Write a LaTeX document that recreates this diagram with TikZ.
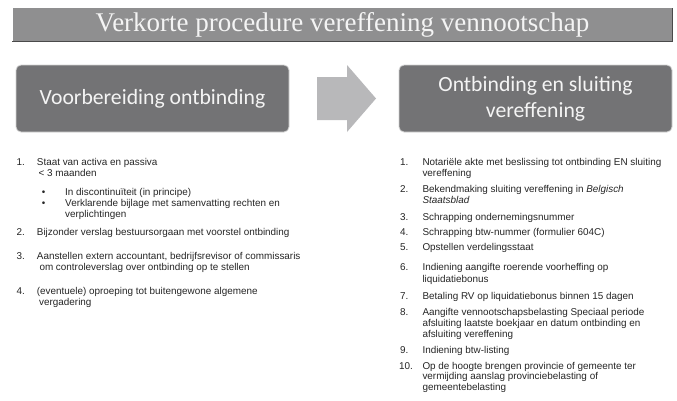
\documentclass[tikz,border=0pt]{standalone}
\usepackage{fontspec}
\setmainfont{Liberation Sans}
\newfontfamily\titlefont{Liberation Serif}
\newfontfamily\boxfont{Carlito}
\newfontfamily\listfont{Liberation Sans}
\definecolor{barfill}{HTML}{8F8F90}
\definecolor{baredge}{HTML}{4A4A4A}
\definecolor{boxfill}{HTML}{737375}
\definecolor{boxedge}{HTML}{D4D4D4}
\definecolor{arrowfill}{HTML}{B8B8BA}
\definecolor{lighttext}{HTML}{F4F4F4}
\definecolor{listtext}{HTML}{262626}
\tikzset{
  stagebox/.style={draw=boxedge, line width=0.8pt, fill=boxfill, rounded corners=5pt,
    minimum width=273pt, minimum height=67pt, inner sep=0pt,
    text=lighttext, font=\boxfont\fontsize{21.7}{26}\selectfont, align=center},
  li/.style={anchor=west, inner sep=0pt, text=listtext,
    font=\listfont\fontsize{9.9}{11}\selectfont, text height=7pt, text depth=2pt},
}
\begin{document}
\begin{tikzpicture}[x=1pt, y=-1pt]
\useasboundingbox (0,0) rectangle (677,400);
\fill[white] (0,0) rectangle (677,400);
% title bar
\node[fill=barfill, minimum width=660pt, minimum height=33pt, inner sep=0pt,
      text=lighttext, font=\titlefont\fontsize{27}{30}\selectfont] (title) at (342.5,24.5)
      {Verkorte procedure vereffening vennootschap};
\draw[baredge, line width=0.9pt] (title.south west) -- (title.south east) -- (title.north east);
% stage boxes
\node[stagebox] (prep) at (152.5,98.5) {Voorbereiding ontbinding};
\node[stagebox] (close) at (535.5,98.5) {Ontbinding en sluiting\\vereffening};
% block arrow
\fill[arrowfill] (317,77) -- (347,77) -- (347,65) -- (376,98.5) -- (347,132) -- (347,120) -- (317,120) -- cycle;
% left list
\node[li] (l1n) at (16.5,163) {1.};
\node[li] (l1a) at (36.7,163) {Staat van activa en passiva};
\node[li] (l1b) at (38.3,174) {< 3 maanden};
\node[li] (l1c) at (41.6,193) {•};
\node[li] (l1d) at (65,193) {In discontinuïteit (in principe)};
\node[li] (l1e) at (41.6,204) {•};
\node[li] (l1f) at (65,204) {Verklarende bijlage met samenvatting rechten en};
\node[li] (l1g) at (65,214.5) {verplichtingen};
\node[li] (l2n) at (16.5,233) {2.};
\node[li] (l2a) at (36.7,233) {Bijzonder verslag bestuursorgaan met voorstel ontbinding};
\node[li] (l3n) at (16.5,257) {3.};
\node[li] (l3a) at (36.7,257) {Aanstellen extern accountant, bedrijfsrevisor of commissaris};
\node[li] (l3b) at (39.3,268) {om controleverslag over ontbinding op te stellen};
\node[li] (l4n) at (16.5,292) {4.};
\node[li] (l4a) at (36.7,292) {(eventuele) oproeping tot buitengewone algemene};
\node[li] (l4b) at (39,303) {vergadering};
% right list
\node[li] (r1n) at (400,162.5) {1.};
\node[li] (r1a) at (422.3,162.5) {Notariële akte met beslissing tot ontbinding EN sluiting};
\node[li] (r1b) at (422.3,173.5) {vereffening};
\node[li] (r2n) at (400,190) {2.};
\node[li] (r2a) at (422.3,190) {Bekendmaking sluiting vereffening in \textit{Belgisch}};
\node[li] (r2b) at (422.3,201) {\textit{Staatsblad}};
\node[li] (r3n) at (400,218) {3.};
\node[li] (r3a) at (422.3,218) {Schrapping ondernemingsnummer};
\node[li] (r4n) at (400,232.5) {4.};
\node[li] (r4a) at (422.3,232.5) {Schrapping btw-nummer (formulier 604C)};
\node[li] (r5n) at (400,248) {5.};
\node[li] (r5a) at (422.3,248) {Opstellen verdelingsstaat};
\node[li] (r6n) at (400,268) {6.};
\node[li] (r6a) at (422.3,268) {Indiening aangifte roerende voorheffing op};
\node[li] (r6b) at (422.3,279.5) {liquidatiebonus};
\node[li] (r7n) at (400,297) {7.};
\node[li] (r7a) at (422.3,297) {Betaling RV op liquidatiebonus binnen 15 dagen};
\node[li] (r8n) at (400,313) {8.};
\node[li] (r8a) at (422.3,313) {Aangifte vennootschapsbelasting Speciaal periode};
\node[li] (r8b) at (422.3,324) {afsluiting laatste boekjaar en datum ontbinding en};
\node[li] (r8c) at (422.3,335) {afsluiting vereffening};
\node[li] (r9n) at (400,350.5) {9.};
\node[li] (r9a) at (422.3,350.5) {Indiening btw-listing};
\node[li] (r10n) at (399,366.5) {10.};
\node[li] (r10a) at (422.3,366.5) {Op de hoogte brengen provincie of gemeente ter};
\node[li] (r10b) at (422.3,377) {vermijding aanslag provinciebelasting of};
\node[li] (r10c) at (422.3,387.5) {gemeentebelasting};
\end{tikzpicture}
\end{document}
